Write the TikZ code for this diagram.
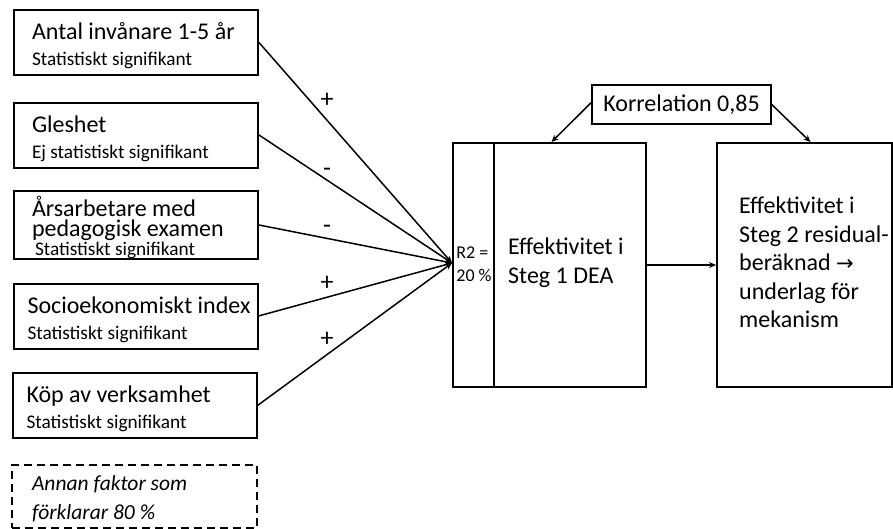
\documentclass[tikz,border=0pt]{standalone}
\usepackage{fontspec}
\setmainfont{Carlito}
\newfontfamily\dejavu{DejaVu Sans}
\usetikzlibrary{arrows.meta}
\newcommand\tightls{\lineskiplimit=-50pt\relax}
\newcommand\sml{\fontsize{19.3}{24}\selectfont}
\newcommand\topstrut{\rule{0pt}{24pt}}
\begin{document}
\begin{tikzpicture}[x=1pt,y=-1pt,
  box/.style={draw, line width=2pt, rectangle, minimum width=244pt, minimum height=65pt,
    inner ysep=0pt, inner xsep=18pt, text width=208pt, align=flush left,
    font=\fontsize{24}{26}\selectfont\tightls},
  boxb/.style={box, inner xsep=14pt, text width=216pt},
  big/.style={draw, line width=2pt, rectangle, minimum height=244pt, inner sep=0pt},
  conn/.style={line width=1.5pt, -{Stealth[length=7pt,width=6pt]}},
  sign/.style={font=\fontsize{26}{28}\selectfont, inner sep=0pt}
]
\useasboundingbox (0,0) rectangle (893,528);

\node[box] (b1) at (136,42.5) {\topstrut Antal invånare 1-5 år\\\sml Statistiskt signifikant};
\node[box] (b2) at (136,135) {\topstrut Gleshet\\\sml Ej statistiskt signifikant};
\node[box, font=\fontsize{24}{19.5}\selectfont\tightls] (b3) at (136,225) {\rule{0pt}{26pt}Årsarbetare med\\pedagogisk examen\\\fontsize{19.3}{19.5}\selectfont\hspace*{3pt}Statistiskt signifikant};
\node[boxb] (b4) at (135.5,316) {\topstrut\makebox[216pt][l]{Socioekonomiskt index}\\\sml Statistiskt signifikant};
\node[boxb] (b5) at (134.5,405.5) {\topstrut Köp av verksamhet\\\sml Statistiskt signifikant};
\node[box, dashed, dash pattern=on 8pt off 5pt, line width=1.8pt, minimum width=245pt, minimum height=63pt,
  inner xsep=20pt, text width=205pt, font=\fontsize{21.5}{29}\selectfont\itshape\tightls] (b6) at (134.5,496.5)
  {\rule{0pt}{20pt}Annan faktor som\\förklarar 80 \%};

\node[big, minimum width=193pt] (big1) at (549.5,265) {};
\draw[line width=2pt] (big1.north west) ++(42,0) -- ++(0,244);
\node[align=flush left, inner sep=0pt, font=\fontsize{18}{23}\selectfont] (r2) at (474,264.5) {R2 =\\20 \%};
\node[align=flush left, anchor=west, inner sep=0pt, font=\fontsize{24}{29}\selectfont] (t1) at (508,263) {Effektivitet i\\Steg 1 DEA};

\node[big, minimum width=175pt] (big2) at (804.5,265) {};
\node[align=flush left, anchor=west, inner sep=0pt, font=\fontsize{24}{28.5}\selectfont] (t2) at (739,262.5)
  {Effektivitet i\\Steg 2 residual-\\beräknad {\dejavu\fontsize{21}{24}\selectfont →}\\underlag för\\mekanism};

\node[draw, line width=1.4pt, minimum width=179pt, minimum height=39pt, inner sep=0pt,
  font=\fontsize{24}{26}\selectfont] (kor) at (681.5,104.5) {Korrelation 0,85};

\coordinate (conv) at (452,263);
\draw[conn] (b1.east) -- (conv);
\draw[conn] (b2.east) -- (conv);
\draw[conn] (b3.east) -- (conv);
\draw[conn] (b4.east) -- (conv);
\draw[conn] (b5.east) -- (conv);

\node[sign] (s1) at (327,100) {+};
\node[sign] (s2) at (327,172) {-};
\node[sign] (s3) at (327,229) {-};
\node[sign] (s4) at (327,283) {+};
\node[sign] (s5) at (327,339) {+};

\draw[conn] (big1.east) -- (big2.west);
\draw[conn] ([yshift=2pt]kor.west) -- ([xshift=2pt]big1.north);
\draw[conn] (kor.east) -- ([xshift=6pt]big2.north);
\end{tikzpicture}
\end{document}
